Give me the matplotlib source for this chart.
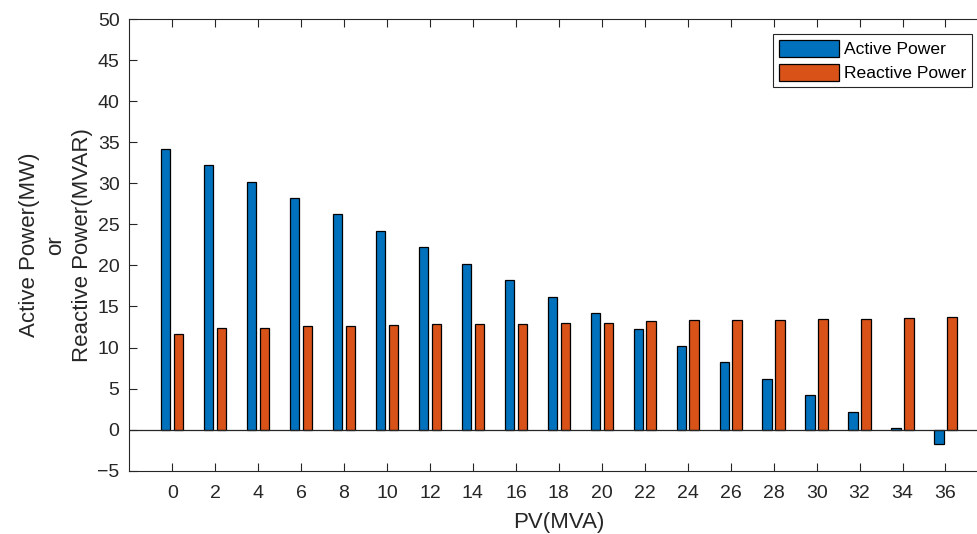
import matplotlib
matplotlib.use("Agg")
import matplotlib.pyplot as plt
import numpy as np

plt.rcParams['font.family'] = ['Liberation Sans', 'DejaVu Sans']

pv_mva = [0, 2, 4, 6, 8, 10, 12, 14, 16, 18, 20, 22, 24, 26, 28, 30, 32, 34, 36]
active_power = [34.2, 32.2, 30.2, 28.2, 26.2, 24.2, 22.2, 20.2, 18.2, 16.2,
                14.2, 12.2, 10.2, 8.2, 6.2, 4.2, 2.2, 0.2, -1.8]
reactive_power = [11.6, 12.4, 12.4, 12.6, 12.6, 12.7, 12.9, 12.9, 12.9, 13.0,
                  13.0, 13.2, 13.3, 13.3, 13.3, 13.5, 13.5, 13.6, 13.7]
y_ticks = [-5, 0, 5, 10, 15, 20, 25, 30, 35, 40, 45, 50]

axis_color = '#262626'
tick_fs = 14
label_fs = 16
legend_fs = 12.6

fig = plt.figure(figsize=(9.77, 5.34), dpi=100)
ax = fig.add_axes([0.1323, 0.1185, 0.8794, 0.8459])

x = np.array(pv_mva, dtype=float)
w = 0.44
off = 0.3
ax.bar(x - off, active_power, width=w, color='#0072BD', edgecolor='black',
       linewidth=0.9, label='Active Power', zorder=3)
ax.bar(x + off, reactive_power, width=w, color='#D95319', edgecolor='black',
       linewidth=0.9, label='Reactive Power', zorder=3)
ax.axhline(0, color=axis_color, linewidth=0.9, zorder=4)

ax.set_xlim(-2, 38)
ax.set_ylim(-5, 50)
ax.set_xticks(pv_mva)
ax.set_yticks(y_ticks)
ax.tick_params(axis='both', direction='in', length=6, width=0.8,
               colors=axis_color, labelsize=tick_fs, top=True, right=True)
ax.tick_params(axis='x', pad=10)
ax.tick_params(axis='y', pad=7)
for s in ax.spines.values():
    s.set_color(axis_color)
    s.set_linewidth(0.8)

ax.set_xlabel('PV(MVA)', fontsize=label_fs, color=axis_color, labelpad=7.5)
ax.set_ylabel('Active Power(MW)\nor\nReactive Power(MVAR)', fontsize=label_fs,
              color=axis_color, linespacing=1.35, labelpad=3)

leg = ax.legend(loc='upper right', bbox_to_anchor=(0.9949, 0.9363),
                bbox_transform=fig.transFigure, borderaxespad=0,
                fontsize=legend_fs, fancybox=False, framealpha=1,
                edgecolor=axis_color, handlelength=3.45, handleheight=1.1,
                handletextpad=0.27, labelspacing=0.38, borderpad=0.34)
leg.get_frame().set_linewidth(0.8)

fig.savefig('out.png', dpi=100)
